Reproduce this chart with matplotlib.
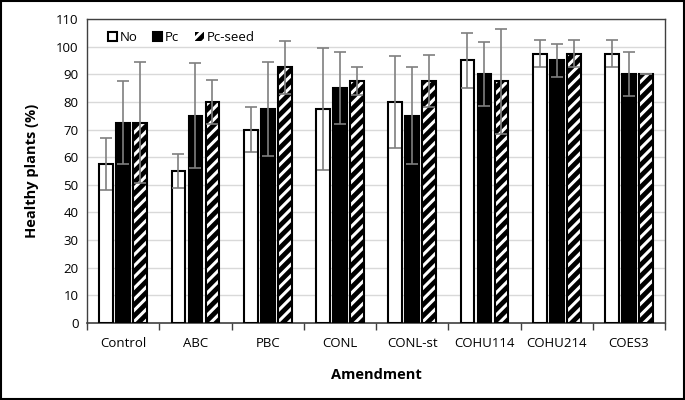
import numpy as np
import matplotlib.pyplot as plt
from matplotlib.patches import Rectangle, Patch

amendments = ["Control", "ABC", "PBC", "CONL", "CONL-st", "COHU114", "COHU214", "COES3"]
series = ["No", "Pc", "Pc-seed"]

no_vals = [57.5, 55, 70, 77.5, 80, 95, 97.5, 97.5]
pc_vals = [72.5, 75, 77.5, 85, 75, 90, 95, 90]
seed_vals = [72.5, 80, 92.5, 87.5, 87.5, 87.5, 97.5, 90]

no_err = [9.5, 6, 8, 22, 16.5, 10, 5, 5]
pc_err = [15, 19, 17, 13, 17.5, 11.5, 6, 8]
seed_err = [22, 8, 9.5, 5, 9.5, 19, 5, 0]

plt.rcParams['font.family'] = ['Open Sans', 'DejaVu Sans']
plt.rcParams['hatch.linewidth'] = 2.2

fig = plt.figure(figsize=(6.85, 4), dpi=100)
ax = fig.add_axes([0.127, 0.1925, 0.844, 0.76])

x = np.arange(len(amendments))
w = 0.19
off = 0.235
errc = "#7f7f7f"

ax.bar(x - off, no_vals, w, color="white", edgecolor="black", linewidth=1.5, zorder=3)
ax.bar(x, pc_vals, w, color="black", edgecolor="black", linewidth=1.5, zorder=3)
# hatched bars: white stripes on black, then black outline
ax.bar(x + off, seed_vals, w, color="black", edgecolor="white", hatch="///", linewidth=0, zorder=3)
ax.bar(x + off, seed_vals, w, fill=False, edgecolor="black", linewidth=1.5, zorder=4)

for dx, vals, errs in [(-off, no_vals, no_err), (0, pc_vals, pc_err), (off, seed_vals, seed_err)]:
    ax.errorbar(x + dx, vals, yerr=errs, fmt="none", ecolor=errc, elinewidth=1.2,
                capsize=4, capthick=1.2, zorder=5)

ax.set_xlim(-0.5, len(amendments) - 0.5)
ax.set_ylim(0, 110)
ax.set_yticks(np.arange(0, 111, 10))
ax.yaxis.grid(True, color="#d9d9d9", linewidth=1, zorder=0)
ax.set_axisbelow(True)

ax.set_xticks(x)
ax.set_xticklabels(amendments, fontsize=9.5)
ax.set_xticks(np.arange(-0.5, len(amendments)), minor=True)
ax.tick_params(axis="x", which="major", length=0, pad=10)
ax.tick_params(axis="x", which="minor", length=5, width=1, color="#404040", direction="out")
ax.tick_params(axis="y", length=0, labelsize=9.5, pad=6)

for s in ["top", "right", "left"]:
    ax.spines[s].set_color("#404040")
    ax.spines[s].set_linewidth(1)
ax.spines["bottom"].set_color("#404040")
ax.spines["bottom"].set_linewidth(1.2)

ax.set_ylabel("Healthy plants (%)", fontsize=10.5, fontweight="bold", labelpad=12)
ax.set_xlabel("Amendment", fontsize=10.5, fontweight="bold", labelpad=13)

handles = [
    Patch(facecolor="white", edgecolor="black", linewidth=1.5),
    Patch(facecolor="black", edgecolor="black", linewidth=1.5),
    Patch(facecolor="black", edgecolor="white", hatch="///", linewidth=0),
]
ax.legend(handles, series, loc="upper left", ncol=3, frameon=False, fontsize=9.5,
          handlelength=0.7, handleheight=0.7, handletextpad=0.2, columnspacing=1.2,
          bbox_to_anchor=(0.015, 1.0))

fig.patches.append(Rectangle((0.002, 0.003), 0.996, 0.994, transform=fig.transFigure,
                             fill=False, edgecolor="black", linewidth=1.5))

fig.savefig("out.png", dpi=100)
